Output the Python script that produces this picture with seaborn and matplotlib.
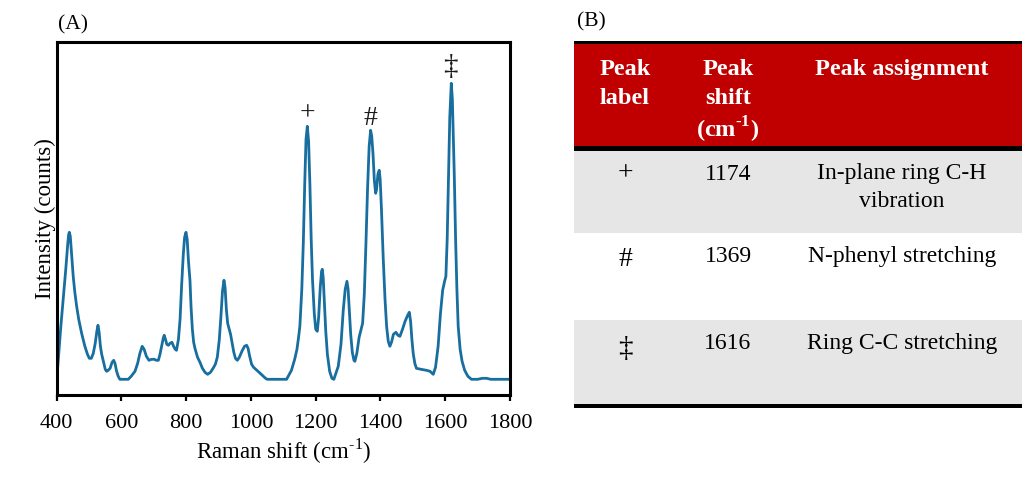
import numpy as np
import pandas as pd
import matplotlib
matplotlib.use("Agg")
import matplotlib.pyplot as plt
from matplotlib.patches import Rectangle
import seaborn as sns

# ---------------- data ----------------
raman_shift = [400, 405, 412, 420, 428, 434, 437, 439, 442, 446, 451, 456, 461.6, 468, 477, 487,
               495, 500.8, 507, 513, 519, 524, 527.5, 531, 535, 539, 545, 550, 554, 559, 565,
               571, 576, 580, 585, 590, 595, 621, 630, 641.8, 650, 657, 664, 670, 677, 685,
               693, 701, 708, 714, 719, 724, 729, 732, 736, 740, 745, 750, 756, 761, 766, 770,
               776, 781, 786, 791, 795, 799.3, 803, 807, 811.6, 815, 819, 823, 827, 835, 842.5,
               850, 858, 866, 875, 883, 890, 896, 902, 907, 912, 916.6, 920, 924, 928, 932, 937,
               942, 947, 952, 957.8, 964, 972, 980, 986.6, 991, 996, 1002, 1008, 1015, 1025,
               1035, 1045, 1050, 1110, 1125, 1135, 1142, 1147, 1151, 1157, 1161.6, 1166, 1170,
               1174, 1178, 1182, 1186, 1190, 1195.5, 1200, 1204.8, 1209, 1214, 1218, 1220.2,
               1223, 1227, 1231, 1236, 1243, 1250, 1256, 1269.6, 1278, 1285, 1291, 1296.4, 1300,
               1304, 1308, 1313, 1318, 1321, 1327, 1334, 1340, 1344.8, 1350, 1355, 1360, 1365,
               1369.5, 1373, 1377, 1381, 1385, 1388, 1392, 1396, 1399, 1403, 1408.6, 1414,
               1418.9, 1424, 1429, 1434, 1440, 1447.7, 1454, 1460, 1468, 1476, 1484, 1489, 1493,
               1497, 1501, 1506, 1511, 1525, 1542, 1553, 1563, 1570, 1578, 1585, 1592, 1598,
               1602, 1606, 1610, 1614, 1618.7, 1622, 1625, 1628, 1632, 1636, 1640, 1646, 1652,
               1660, 1670, 1681, 1700, 1715, 1728, 1740, 1800]
intensity = [0, 20, 50, 80, 110, 135, 145, 147, 143, 125, 103, 87, 73, 60, 46, 33,
             25, 21, 21, 26, 36, 48, 54, 47, 33, 25, 17, 10, 8, 9, 11,
             17, 19, 16, 8, 3, 0, 0, 3, 8, 16, 26, 33, 30, 23, 19,
             20, 20, 19, 19, 25, 33, 41, 44, 40, 35, 34, 36, 37, 33, 30, 29,
             40, 60, 95, 125, 142, 147, 140, 118, 99, 72, 50, 37, 31, 22, 17,
             11, 7, 5, 7, 11, 15, 22, 39, 62, 88, 99, 92, 70, 56, 51, 45,
             36, 27, 21, 19, 22, 28, 33, 34, 31, 23, 15, 12, 10, 7,
             4, 1, 0, 0, 9, 20, 30, 42, 53, 90, 136, 195, 240,
             253, 238, 195, 140, 100, 66, 50, 48, 62, 92, 108, 110,
             102, 75, 48, 25, 8, 1, 0, 13, 35, 69, 90, 98, 90,
             68, 45, 27, 19, 18, 26, 42, 50, 56, 85, 135, 190, 233,
             249, 243, 225, 199, 186, 190, 205, 209, 200, 170, 120, 80,
             53, 38, 33, 37, 45, 47, 44, 43, 50, 58, 64, 67, 58,
             40, 26, 16, 11, 10, 9, 8, 5, 12, 33, 65, 89, 98,
             103, 140, 200, 262, 296, 280, 240, 203, 140, 90, 53, 30, 18,
             9, 3, 0, 0, 1, 1, 0, 0]

peak_symbols = ["+", "#", "\u2021"]
peak_shifts = [1174, 1369, 1616]
peak_assignments = ["In-plane ring C-H\nvibration", "N-phenyl stretching", "Ring C-C stretching"]
header_labels = ["Peak\nlabel", "Peak\nshift\n(cm$^{\\mathbf{\u20101}}$)", "Peak assignment"]
xticks = [400, 600, 800, 1000, 1200, 1400, 1600, 1800]

df = pd.DataFrame({"shift": raman_shift, "intensity": intensity})

# ---------------- style ----------------
sns.set_theme(style="ticks")
plt.rcParams["font.family"] = ["Liberation Serif", "DejaVu Serif"]
plt.rcParams["mathtext.fontset"] = "custom"
plt.rcParams["mathtext.rm"] = "Liberation Serif"
plt.rcParams["mathtext.bf"] = "Liberation Serif:bold"
plt.rcParams["text.color"] = "black"
plt.rcParams["axes.labelcolor"] = "black"
plt.rcParams["xtick.color"] = "black"

fig = plt.figure(figsize=(10.24, 4.92), dpi=100)
W, H = 1024, 492

# ---------------- panel A ----------------
ax = fig.add_axes([56.7 / W, 1 - 395 / H, (510 - 56.7) / W, (395 - 41.7) / H])
sns.lineplot(data=df, x="shift", y="intensity", ax=ax, color="#176E9F", linewidth=2.0)
ax.set_xlim(400, 1800)
ax.set_ylim(-15.7, 337.6)
ax.set_xticks(xticks)
ax.set_xticklabels([str(t) for t in xticks])
ax.set_yticks([])
ax.tick_params(axis="x", direction="out", length=4, width=1.6, labelsize=16, colors="black", pad=10)
for s in ax.spines.values():
    s.set_linewidth(2.2)
    s.set_color("black")
ax.set_xlabel("Raman shift (cm$^{\\mathrm{\u20101}}$)", fontsize=16.5, labelpad=2, color="black")
ax.set_ylabel("Intensity (counts)", fontsize=16.5, labelpad=0.5, color="black")

sym_sizes = [20, 20, 21]
sym_offsets = [9, 9.5, 26]
for sym, xs, fs, off in zip(peak_symbols, peak_shifts, sym_sizes, sym_offsets):
    ypk = np.interp(xs, raman_shift, intensity)
    ax.annotate(sym, (xs, ypk), xytext=(0, off), textcoords="offset points",
                ha="center", va="center", fontsize=fs, color="#1a1a1a")

fig.text(58 / W, 1 - 25 / H, "(A)", fontsize=15.5, va="center", ha="left", color="black")
fig.text(577 / W, 1 - 22 / H, "(B)", fontsize=15.5, va="center", ha="left", color="black")

# ---------------- panel B (table) ----------------
tx = fig.add_axes([0, 0, 1, 1])
tx.set_xlim(0, W)
tx.set_ylim(H, 0)
tx.axis("off")
tx.patch.set_alpha(0)

x0, x1 = 574, 1021.5
col_centers = [625, 728, 902]
tx.add_patch(Rectangle((x0, 44), x1 - x0, 102, color="#C00000", lw=0))
row_tops = [150.5, 233, 320]
row_bottoms = [233, 320, 403.5]
row_colors = ["#E7E6E6", "#FFFFFF", "#E7E6E6"]
for t, b, c in zip(row_tops, row_bottoms, row_colors):
    tx.add_patch(Rectangle((x0, t), x1 - x0, b - t, color=c, lw=0))
tx.add_patch(Rectangle((x0, 40.5), x1 - x0, 3.8, color="black", lw=0))
tx.add_patch(Rectangle((x0, 146), x1 - x0, 4.5, color="black", lw=0))
tx.add_patch(Rectangle((x0, 403.5), x1 - x0, 4, color="black", lw=0))

header_baselines = [75, 104.5, 137.5]
for cx, lab in zip(col_centers, header_labels):
    for line, yb in zip(lab.split("\n"), header_baselines):
        tx.text(cx, yb, line, ha="center", va="baseline", fontsize=17.5, fontweight="bold",
                color="white")

sym_row_y = [173.5, 259.5, 349]
sym_row_fs = [20, 20, 21]
for i, t in enumerate(row_tops):
    tx.text(col_centers[0], sym_row_y[i], peak_symbols[i], ha="center", va="center",
            fontsize=sym_row_fs[i], color="black")
    tx.text(col_centers[1], t + 13, str(peak_shifts[i]), ha="center", va="top",
            fontsize=17, color="black")
    tx.text(col_centers[2], t + 13, peak_assignments[i], ha="center", va="top",
            fontsize=17, color="black", linespacing=1.38)

fig.savefig("out.png", dpi=100)
